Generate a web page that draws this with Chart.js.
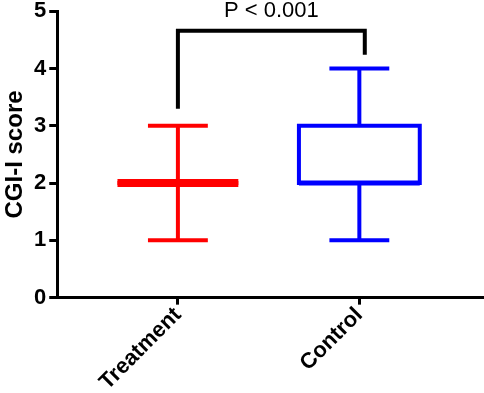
<!DOCTYPE html>
<html>
<head>
<meta charset="utf-8">
<script src="https://cdn.jsdelivr.net/npm/chart.js@4.4.1/dist/chart.umd.min.js"></script>
<style>
  html, body { margin: 0; padding: 0; background: #fff; }
  #wrap { width: 484px; height: 393px; }
</style>
</head>
<body>
<div id="wrap"><canvas id="boxChart"></canvas></div>
<script>
// box plot values
const categories = ['Treatment', 'Control'];
const whiskerMin = [1, 1];
const q1 = [2, 2];
const median = [2, 2];
const q3 = [2, 3];
const whiskerMax = [3, 4];
const yTicks = [0, 1, 2, 3, 4, 5];

// significance bracket: [left leg bottom, top, right leg bottom] in score units
const bracketY = [3.3, 4.66, 4.24];
const bracketX = [0, 1.03];
const pLabel = 'P < 0.001';

const colors = ['#ff0000', '#0000ff'];
const medianWidth = [8, 5];
const boxHalf = 0.333;
const capHalf = 0.165;
const FONT = 'Arial, "Liberation Sans", sans-serif';

function seg(points, color, width) {
    return {
        data: points,
        showLine: true,
        borderColor: color,
        borderWidth: width,
        pointRadius: 0,
        fill: false,
        borderCapStyle: 'butt',
        borderJoinStyle: 'miter',
        clip: false
    };
}

const datasets = [];
categories.forEach((cat, i) => {
    const c = colors[i];
    // whiskers
    datasets.push(seg([{x: i, y: whiskerMin[i]}, {x: i, y: q1[i]}], c, 4));
    datasets.push(seg([{x: i, y: q3[i]}, {x: i, y: whiskerMax[i]}], c, 4));
    // caps
    datasets.push(seg([{x: i - capHalf, y: whiskerMin[i]}, {x: i + capHalf, y: whiskerMin[i]}], c, 4));
    datasets.push(seg([{x: i - capHalf, y: whiskerMax[i]}, {x: i + capHalf, y: whiskerMax[i]}], c, 4));
    // box
    datasets.push(seg([
        {x: i - boxHalf, y: q1[i]}, {x: i + boxHalf, y: q1[i]},
        {x: i + boxHalf, y: q3[i]}, {x: i - boxHalf, y: q3[i]},
        {x: i - boxHalf, y: q1[i]}, {x: i, y: q1[i]}
    ], c, 4));
    // median
    datasets.push(seg([{x: i - boxHalf, y: median[i]}, {x: i + boxHalf, y: median[i]}], c, medianWidth[i]));
});

// bracket
datasets.push(seg([
    {x: bracketX[0], y: bracketY[0]}, {x: bracketX[0], y: bracketY[1]},
    {x: bracketX[1], y: bracketY[1]}, {x: bracketX[1], y: bracketY[2]}
], '#000', 4));

const pValuePlugin = {
    id: 'pValue',
    afterDatasetsDraw(chart) {
        const ctx = chart.ctx;
        const xs = chart.scales.x, ys = chart.scales.y;
        const cx = (xs.getPixelForValue(bracketX[0]) + xs.getPixelForValue(bracketX[1])) / 2;
        const top = ys.getPixelForValue(bracketY[1]);
        ctx.save();
        ctx.font = '22px ' + FONT;
        ctx.fillStyle = '#000';
        ctx.textAlign = 'center';
        ctx.textBaseline = 'middle';
        ctx.fillText(pLabel, cx, top - 20);
        ctx.restore();
    }
};

new Chart(document.getElementById('boxChart').getContext('2d'), {
    type: 'scatter',
    data: { datasets: datasets },
    options: {
        responsive: true,
        maintainAspectRatio: false,
        animation: false,
        layout: { padding: { top: 0, right: 0, bottom: 0, left: 3 } },
        plugins: {
            legend: { display: false },
            tooltip: { enabled: false }
        },
        scales: {
            x: {
                type: 'linear',
                min: -0.665,
                max: 1.687,
                afterBuildTicks: axis => { axis.ticks = categories.map((c, i) => ({ value: i })); },
                ticks: {
                    autoSkip: false,
                    minRotation: 45,
                    maxRotation: 45,
                    padding: 0,
                    color: '#000',
                    font: { family: FONT, size: 22, weight: 'bold', lineHeight: 0.9 },
                    callback: v => categories[v]
                },
                grid: { display: true, drawOnChartArea: false, drawTicks: true, tickLength: 7, color: '#000', lineWidth: 3 },
                border: { display: true, color: '#000', width: 3 }
            },
            y: {
                min: 0,
                max: 5,
                afterBuildTicks: axis => { axis.ticks = yTicks.map(v => ({ value: v })); },
                ticks: {
                    padding: 3,
                    color: '#000',
                    font: { family: FONT, size: 22, weight: 'bold', lineHeight: 0.75 }
                },
                title: {
                    display: true,
                    text: 'CGI-I score',
                    color: '#000',
                    font: { family: FONT, size: 24, weight: 'bold', lineHeight: 1 },
                    padding: { top: 0, bottom: 4 }
                },
                grid: { display: true, drawOnChartArea: false, drawTicks: true, tickLength: 8, color: '#000', lineWidth: 3 },
                border: { display: true, color: '#000', width: 3 }
            }
        }
    },
    plugins: [pValuePlugin]
});
</script>
</body>
</html>
